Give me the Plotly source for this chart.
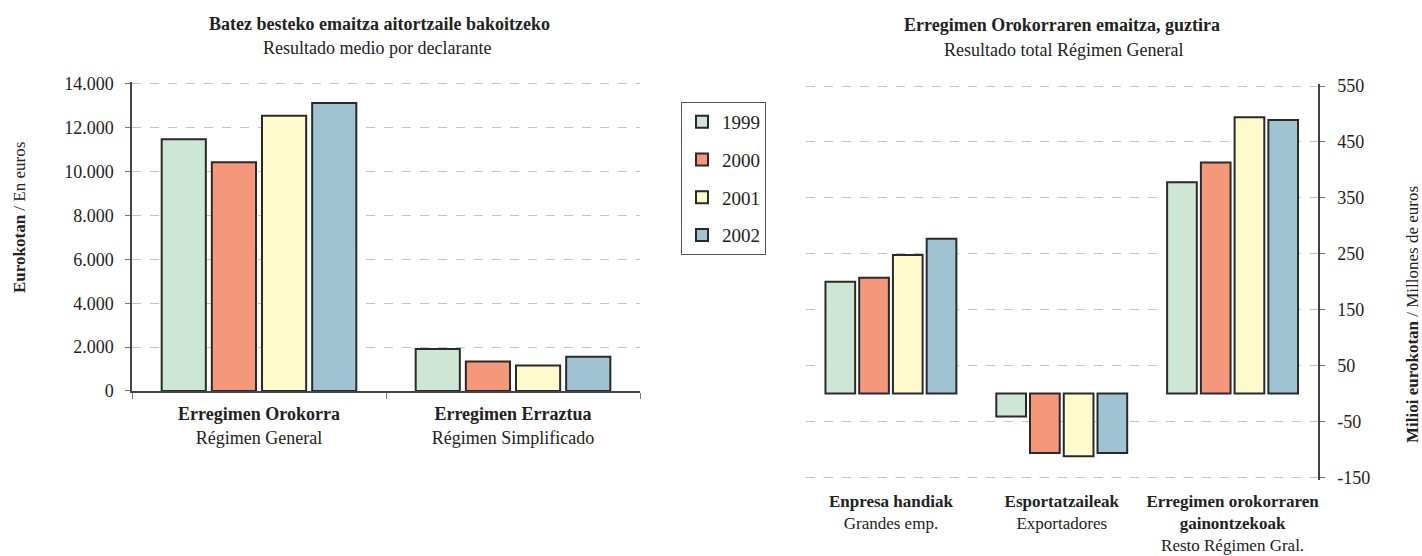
import plotly.graph_objects as go

W, H = 1422, 556

years = ["1999", "2000", "2001", "2002"]
colors = ["#cde6d6", "#f5977a", "#fffacb", "#9fc3d3"]

left_categories = ["<b>Erregimen Orokorra</b><br>Régimen General",
                   "<b>Erregimen Erraztua</b><br>Régimen Simplificado"]
left_1999 = [11480, 1920]
left_2000 = [10430, 1350]
left_2001 = [12550, 1160]
left_2002 = [13130, 1560]

right_categories = ["<b>Enpresa handiak</b><br>Grandes emp.",
                    "<b>Esportatzaileak</b><br>Exportadores",
                    "<b>Erregimen orokorraren</b><br><b>gainontzekoak</b><br>Resto Régimen Gral."]
right_1999 = [200, -41, 378]
right_2000 = [207, -106, 413]
right_2001 = [248, -112, 494]
right_2002 = [277, -106, 489]

left_ticks = [0, 2000, 4000, 6000, 8000, 10000, 12000, 14000]
right_ticks = [-150, -50, 50, 150, 250, 350, 450, 550]
right_tick_labels = ["-150", "-50", "50", "150", "250", "350", "450", "550"]

left_series = [left_1999, left_2000, left_2001, left_2002]
right_series = [right_1999, right_2000, right_2001, right_2002]

FONT = "Liberation Serif"
DARK = "#2a2a2a"
GRID = "#c4c4c4"
FS = 18

def px_x(p):
    return p / W

def px_y(p):
    return (H - p) / H

fig = go.Figure()
for yr, col, vals in zip(years, colors, left_series):
    fig.add_trace(go.Bar(x=left_categories, y=vals, name=yr, legendgroup=yr,
                         marker=dict(color=col, line=dict(color=DARK, width=2)),
                         xaxis="x", yaxis="y", showlegend=True))
for yr, col, vals in zip(years, colors, right_series):
    fig.add_trace(go.Bar(x=right_categories, y=vals, name=yr, legendgroup=yr,
                         marker=dict(color=col, line=dict(color=DARK, width=2)),
                         xaxis="x2", yaxis="y2", showlegend=False))

grid = dict(showgrid=True, gridcolor=GRID, griddash="dash", gridwidth=1)

# left: 0 at y=391, 14000 at y=84 ; range extended slightly so the top gridline is drawn
l_lo, l_hi = 0, 14080
l_px_per = (391 - 84) / 14000
left_dom_y = [px_y(391), px_y(391 - l_hi * l_px_per)]
left_dom_x = [px_x(132), px_x(640)]

# right: -150 at y=477.5, 550 at y=86
r_lo, r_hi = -154, 553
r_px_per = (477.5 - 86) / 700
right_dom_y = [px_y(477.5 + (-150 - r_lo) * r_px_per), px_y(86 - (r_hi - 550) * r_px_per)]
right_dom_x = [px_x(805.5), px_x(1318)]
zero_pos = right_dom_y[0] + (0 - r_lo) / (r_hi - r_lo) * (right_dom_y[1] - right_dom_y[0])

fig.update_layout(
    width=W, height=H,
    margin=dict(l=0, r=0, t=0, b=0),
    paper_bgcolor="white", plot_bgcolor="white",
    font=dict(family=FONT, color="#222", size=FS),
    separators=",.",
    barmode="group", bargap=0.21, bargroupgap=0.12,
    xaxis=dict(domain=left_dom_x, anchor="y", type="category",
               showline=True, linecolor="#444", linewidth=1.5,
               ticks="outside", tickson="boundaries", ticklen=6, tickcolor="#777",
               tickfont=dict(size=FS), showgrid=False, automargin=False,
               ticklabelstandoff=6),
    yaxis=dict(domain=left_dom_y, anchor="x", range=[l_lo, l_hi], tickvals=left_ticks,
               tickformat=",d", showline=True, linecolor="#444", linewidth=1.5,
               ticks="outside", ticklen=5, tickcolor="#777",
               tickfont=dict(size=FS), zeroline=False, automargin=False,
               ticklabelstandoff=8, **grid),
    xaxis2=dict(domain=right_dom_x, anchor="y2", type="category",
                showline=False, ticks="", tickfont=dict(size=17), showgrid=False,
                automargin=False, ticklabelstandoff=9),
    yaxis2=dict(domain=right_dom_y, anchor="x2", side="right", range=[r_lo, r_hi],
                tickvals=right_ticks, ticktext=right_tick_labels,
                showline=True, linecolor="#444", linewidth=1.5,
                ticks="outside", ticklen=5, tickcolor="#777",
                tickfont=dict(size=FS), zeroline=False, automargin=False,
                ticklabelstandoff=9, **grid),
    xaxis3=dict(overlaying="x2", anchor="free", position=zero_pos,
                range=[-0.5, 2.5], tickvals=[-0.5, 0.5, 1.5, 2.5], showticklabels=False,
                showline=True, linecolor="#444", linewidth=1.5,
                ticks="outside", ticklen=6, tickcolor="#777", showgrid=False,
                zeroline=False, automargin=False),
    legend=dict(x=px_x(681), y=px_y(102), xanchor="left", yanchor="top",
                bordercolor="#555", borderwidth=1, bgcolor="white",
                font=dict(size=19), tracegroupgap=10, traceorder="grouped",
                itemclick=False, itemdoubleclick=False),
    showlegend=True,
)

# bottom gridline of the right panel (plotly skips it next to the anchored x axis)
fig.add_shape(type="line", xref="x2 domain", yref="y2", x0=0, x1=1,
              y0=right_ticks[0], y1=right_ticks[0], layer="below",
              line=dict(color=GRID, width=1, dash="dash"))

ann = [
    dict(text="<b>Batez besteko emaitza aitortzaile bakoitzeko</b>", x=px_x(379), y=px_y(24)),
    dict(text="Resultado medio por declarante", x=px_x(377), y=px_y(48)),
    dict(text="<b>Erregimen Orokorraren emaitza, guztira</b>", x=px_x(1062), y=px_y(25)),
    dict(text="Resultado total Régimen General", x=px_x(1063), y=px_y(50)),
]
for a in ann:
    fig.add_annotation(text=a["text"], x=a["x"], y=a["y"], xref="paper", yref="paper",
                       showarrow=False, xanchor="center", yanchor="middle",
                       font=dict(size=FS, family=FONT, color="#222"))

fig.add_annotation(text="<b>Eurokotan</b> / En euros", x=px_x(19), y=px_y(218),
                   xref="paper", yref="paper", showarrow=False, textangle=-90,
                   xanchor="center", yanchor="middle",
                   font=dict(size=17, family=FONT, color="#222"))
fig.add_annotation(text="<b>Milioi eurokotan</b> / Millones de euros", x=px_x(1412), y=px_y(315),
                   xref="paper", yref="paper", showarrow=False, textangle=-90,
                   xanchor="center", yanchor="middle",
                   font=dict(size=17, family=FONT, color="#222"))

fig.write_html("out.html", config={"displayModeBar": False},
               post_script="document.body.style.margin='0';")
